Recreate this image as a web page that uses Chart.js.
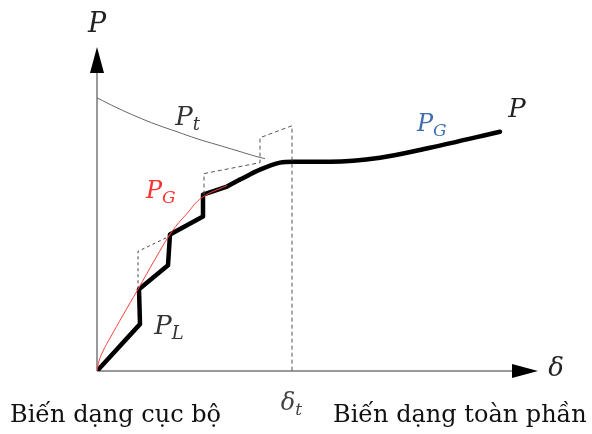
<!DOCTYPE html>
<html lang="vi">
<head>
<meta charset="UTF-8">
<script src="https://cdn.jsdelivr.net/npm/chart.js@4.4.0/dist/chart.umd.min.js"></script>
<title>P - δ</title>
<style>
  body { margin: 0; background: #fff; }
  #wrap { width: 592px; height: 434px; }
</style>
</head>
<body>
<div id="wrap"><canvas id="pd"></canvas></div>
<script>
// load - deformation sketch, values in drawing units (δ to the right, P up)
const deltaMax = 448;
const pMax = 327;
const deltaT = 195;

// thick P curve: stepped part (local buckling) then smooth global part
const stepDelta = [0, 43, 42, 71, 73, 106, 106, 130, 143];
const stepP     = [0, 47, 82, 106, 137, 155, 177, 185, 192];
const globDelta = [143, 163, 183, 196, 233, 283, 333, 403];
const globP     = [192, 202, 209, 210, 210, 214, 224, 240];

// red P_G curve
const pgDelta = [0, 2, 6, 13, 26, 41, 58, 75, 90, 105, 130];
const pgP     = [0, 10, 20, 33, 56, 82, 112, 140, 158, 174, 186];

// P_t curve
const ptDelta = [0, 20, 40, 60, 80, 100, 120, 140, 160, 168];
const ptP     = [274, 264, 255, 247, 240, 233, 227, 221, 215, 213];

// dashed helpers
const dash1Delta = [41, 41, 70, 73];
const dash1P     = [82, 120, 134, 137];
const dash2Delta = [107, 107, 163, 163, 195, 195];
const dash2P     = [177, 198, 209, 234, 246, 0];

const pts = (xs, ys) => xs.map((x, i) => ({ x: x, y: ys[i] }));

// axes with arrow heads and the text labels
const sketch = {
  id: 'sketch',
  beforeDatasetsDraw(chart) {
    const c = chart.ctx, xs = chart.scales.x, ys = chart.scales.y;
    const x0 = xs.getPixelForValue(0), y0 = ys.getPixelForValue(0);
    c.save();
    c.strokeStyle = '#999';
    c.lineWidth = 2;
    c.beginPath();
    c.moveTo(x0, y0); c.lineTo(x0, 60);
    c.moveTo(x0, y0); c.lineTo(525, y0);
    c.stroke();
    c.fillStyle = '#000';
    c.beginPath();
    c.moveTo(x0, 47); c.lineTo(x0 - 7, 73); c.lineTo(x0 + 7, 73); c.closePath();
    c.fill();
    c.beginPath();
    c.moveTo(538, y0); c.lineTo(512, y0 - 7); c.lineTo(512, y0 + 7); c.closePath();
    c.fill();
    c.restore();
  },
  afterDatasetsDraw(chart) {
    const c = chart.ctx, xs = chart.scales.x, ys = chart.scales.y;
    const lab = (d, p, main, sub, color, size) => {
      const px = xs.getPixelForValue(d), py = ys.getPixelForValue(p);
      c.fillStyle = color;
      c.textBaseline = 'middle';
      c.textAlign = 'left';
      c.font = 'italic ' + size + 'px "DejaVu Serif"';
      const w = c.measureText(main).width;
      c.fillText(main, px - w / 2, py);
      if (sub) {
        c.font = 'italic ' + Math.round(size * 0.7) + 'px "DejaVu Serif"';
        c.fillText(sub, px + w / 2, py + size * 0.28);
      }
    };
    c.save();
    lab(0, 347, 'P', '', '#222', 27);
    lab(420, 262, 'P', '', '#222', 26);
    lab(87, 254, 'P', 't', '#333', 26);
    lab(57, 180, 'P', 'G', '#ff3030', 24);
    lab(66, 44, 'P', 'L', '#333', 26);
    lab(328, 247, 'P', 'G', '#3f6fae', 24);
    lab(459, 2, 'δ', '', '#222', 26);
    lab(deltaT - 4, -33, 'δ', 't', '#444', 24);
    c.font = '24px "DejaVu Serif"';
    c.fillStyle = '#111';
    c.textBaseline = 'alphabetic';
    c.fillText('Biến dạng cục bộ', 10, 422);
    c.fillText('Biến dạng toàn phần', 333, 422);
    c.restore();
  }
};

const line = (data, color, width, extra) => Object.assign({
  data: data, borderColor: color, borderWidth: width, pointRadius: 0,
  fill: false, showLine: true, tension: 0
}, extra || {});

new Chart(document.getElementById('pd'), {
  type: 'scatter',
  data: {
    datasets: [
      line(pts(ptDelta, ptP), '#666', 1, { tension: 0.4 }),
      line(pts(pgDelta, pgP), '#ff4040', 1, { tension: 0.4 }),
      line(pts(dash1Delta, dash1P), '#444', 1, { borderDash: [3, 3] }),
      line(pts(dash2Delta, dash2P), '#555', 1, { borderDash: [4, 3] }),
      line(pts(stepDelta, stepP), '#000', 4.5, { borderJoinStyle: 'round' }),
      line(pts(globDelta, globP), '#000', 4.5, { cubicInterpolationMode: 'monotone', borderCapStyle: 'round' })
    ]
  },
  options: {
    responsive: true,
    maintainAspectRatio: false,
    animation: false,
    layout: { padding: { left: 97, right: 47, top: 45, bottom: 63 } },
    plugins: { legend: { display: false }, tooltip: { enabled: false } },
    scales: {
      x: { type: 'linear', min: 0, max: deltaMax, display: false },
      y: { type: 'linear', min: 0, max: pMax, display: false }
    }
  },
  plugins: [sketch]
});
</script>
</body>
</html>
